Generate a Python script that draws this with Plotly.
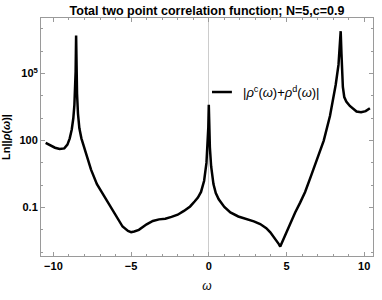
import plotly.graph_objects as go

# Omega and log10 |rho|
omega = [-10.5, -10.2, -9.9, -9.6, -9.3, -9.1, -8.95, -8.82, -8.72, -8.65, -8.6, -8.57, -8.54,
         -8.51, -8.48, -8.42, -8.33, -8.2, -8.05, -7.8, -7.58, -7.2, -6.9, -6.5, -6.0,
         -5.55, -5.2, -5.0, -4.8, -4.5, -4.0, -3.6, -3.2, -2.8, -2.4, -2.0, -1.6, -1.2,
         -0.9, -0.7, -0.5, -0.3, -0.15, -0.07, -0.03, 0.0, 0.03, 0.07, 0.15, 0.3, 0.45,
         0.64, 1.0, 1.39, 1.9, 2.46, 2.9, 3.31, 3.7, 3.96, 4.2, 4.38, 4.52, 4.6, 4.68,
         4.82, 5.03, 5.3, 5.56, 5.88, 6.2, 6.6, 7.0, 7.4, 7.8, 8.0, 8.17, 8.35, 8.45, 8.49,
         8.54, 8.58, 8.63, 8.72, 8.85, 9.08, 9.3, 9.51, 9.8, 10.1, 10.37]
log10_rho = [1.9, 1.8, 1.68, 1.62, 1.65, 1.82, 2.1, 2.5, 3.0, 3.6, 4.3, 5.1, 6.7,
             5.1, 4.1, 3.2, 2.55, 2.1, 1.75, 1.2, 0.7, 0.05, -0.3, -0.78, -1.35,
             -1.85, -2.05, -2.1, -2.07, -2.0, -1.75, -1.6, -1.53, -1.5, -1.42, -1.32, -1.15, -0.95,
             -0.72, -0.55, -0.3, 0.2, 1.0, 1.8, 2.6, 3.6, 2.6, 1.7, 0.85, 0.05, -0.35,
             -0.63, -0.97, -1.22, -1.4, -1.52, -1.62, -1.74, -1.92, -2.11, -2.32, -2.49, -2.65, -2.75, -2.62,
             -2.35, -2.04, -1.65, -1.22, -0.78, -0.3, 0.45, 1.2, 2.0, 3.1, 3.8, 4.5, 5.4, 6.2, 6.9,
             5.9, 5.0, 4.4, 3.95, 3.75, 3.55, 3.4, 3.3, 3.27, 3.32, 3.45]
rho = [10 ** v for v in log10_rho]

x_ticks = [-10, -5, 0, 5, 10]
y_tickvals = [0.1, 100, 1e5]
y_ticktext = ["0.1", "100", "10<sup>5</sup>"]
y_minor = [1e-3, 1e-2, 1, 10, 1e3, 1e4, 1e6, 1e7]

FONT = "Liberation Sans"
FRAME = "#9a9a9a"

fig = go.Figure()
fig.add_trace(go.Scatter(x=omega, y=rho, mode="lines",
                         line=dict(color="black", width=2.5), showlegend=False))

# legend key
fig.add_shape(type="line", xref="paper", yref="paper", x0=0.515, x1=0.575, y0=0.689, y1=0.689,
              line=dict(color="black", width=2.5))
fig.add_annotation(xref="paper", yref="paper", x=0.603, y=0.689, xanchor="left", yanchor="middle",
                   showarrow=False,
                   text="|<i>ρ</i><sup>c</sup>(<i>ω</i>)+<i>ρ</i><sup>d</sup>(<i>ω</i>)|",
                   font=dict(family=FONT, size=13, color="black"))

fig.update_layout(
    width=382, height=300,
    margin=dict(l=41, r=9, t=18, b=44),
    paper_bgcolor="white", plot_bgcolor="white",
    title=dict(text="Total two point correlation function; N=5,c=0.9",
               x=0.5, xref="paper", y=0.965, yref="container", xanchor="center", yanchor="middle",
               font=dict(family=FONT, size=12.5, color="black", weight="bold")),
    xaxis=dict(range=[-10.8, 10.57], tickvals=x_ticks, ticks="inside", ticklen=4,
               tickcolor=FRAME, showline=True, linecolor=FRAME, linewidth=1, mirror="ticks",
               showgrid=False, zeroline=True, zerolinecolor="#cccccc", zerolinewidth=1,
               automargin=False,
               minor=dict(dtick=1, ticks="inside", ticklen=2, tickcolor=FRAME),
               tickfont=dict(family=FONT, size=11, color="black", weight="bold"),
               title=dict(text="<i>ω</i>", font=dict(family=FONT, size=12, color="black"), standoff=10)),
    yaxis=dict(type="log", range=[-3.17, 7.49], tickvals=y_tickvals, ticktext=y_ticktext,
               ticks="inside", ticklen=4, tickcolor=FRAME, showline=True, linecolor=FRAME,
               linewidth=1, mirror="ticks", showgrid=False, zeroline=False, automargin=False,
               minor=dict(tickvals=y_minor, ticks="inside", ticklen=2, tickcolor=FRAME),
               tickfont=dict(family=FONT, size=11, color="black", weight="bold"),
               title=dict(text="Ln||<i>ρ</i>(<i>ω</i>)|",
                          font=dict(family=FONT, size=11, color="black", weight="bold"), standoff=6)),
)

fig.write_html("out.html", config={"displayModeBar": False},
               post_script="document.body.style.margin='0';document.body.style.padding='0';")
